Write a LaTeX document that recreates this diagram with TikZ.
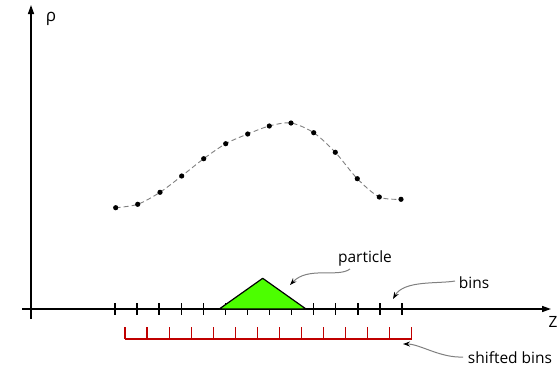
\documentclass[tikz,border=0pt]{standalone}
\usepackage{fontspec}
\setmainfont{Open Sans}
\usepackage{xcolor}
\usetikzlibrary{arrows.meta}
\definecolor{BinRed}{HTML}{C00000}
\definecolor{PartGreen}{HTML}{4CFF00}

\begin{document}
\begin{tikzpicture}[x=1pt, y=-1pt, every node/.style={font=\fontsize{15.5}{17}\selectfont},
    axis/.style={line width=1.5pt, -{Triangle[length=9pt, width=6pt]}},
    bintick/.style={line width=1.4pt, black},
    shifted/.style={line width=1.2pt, color=BinRed},
    note/.style={gray, line width=1pt, -{Stealth[black, length=7pt, width=5pt]}},
    sample/.style={black}]

    \useasboundingbox (0,0) rectangle (560,368);

    % axes
    \coordinate (origin) at (31,309);
    \coordinate (ybot) at (31,319);
    \coordinate (ytop) at (31,5);
    \coordinate (xleft) at (22,309);
    \coordinate (xright) at (551,309);
    \draw[axis] (ybot) -- (ytop);
    \draw[axis] (xleft) -- (xright);
    \node[font=\fontsize{17}{19}\selectfont] (rho) at (51,19) {ρ};
    \node (zlabel) at (553,322) {Z};

    % bins
    \draw[bintick] \foreach \x in {115.0,137.1,159.1,181.2,203.3,225.4,247.4,269.5,291.6,313.6,335.7,357.8,379.8,401.9}{
      (\x,303) -- (\x,315)
    };

    % shifted bins
    \coordinate (sleft) at (125,339);
    \coordinate (sright) at (411.7,339);
    \draw[shifted] (sleft) -- (sright)
      \foreach \x in {125.0,147.0,169.1,191.2,213.2,235.3,257.3,279.4,301.4,323.5,345.5,367.6,389.6,411.7}{
      (\x,327) -- (\x,339)
    };

    % particle
    \coordinate (pleft) at (219.3,309);
    \coordinate (ptop) at (262.7,278.3);
    \coordinate (pright) at (306,309);
    \filldraw[fill=PartGreen, draw=black, line width=1.2pt, line join=round]
      (pleft) -- (ptop) -- (pright) -- cycle;

    % density samples
    \coordinate (s1) at (115.7,207.7);
    \coordinate (s2) at (137.7,204.3);
    \coordinate (s3) at (160,192.3);
    \coordinate (s4) at (181.7,176);
    \coordinate (s5) at (203.7,158.7);
    \coordinate (s6) at (225.7,143.7);
    \coordinate (s7) at (247.7,134);
    \coordinate (s8) at (269.3,126);
    \coordinate (s9) at (291,123);
    \coordinate (s10) at (313.7,132.7);
    \coordinate (s11) at (335.3,152.3);
    \coordinate (s12) at (357.3,178.7);
    \coordinate (s13) at (379.3,197);
    \coordinate (s14) at (401,199.3);
    \draw[gray, line width=0.9pt, dash pattern=on 5pt off 3pt]
      plot[smooth, tension=0.5] coordinates {(s1) (s2) (s3) (s4) (s5) (s6) (s7)
        (s8) (s9) (s10) (s11) (s12) (s13) (s14)};
    \foreach \i in {1,...,14}{
      \fill[sample] (s\i) circle (2.6pt);
    }

    % labels
    \node (particle) at (365,258) {particle};
    \node (bins) at (474,283) {bins};
    \node (shiftedbins) at (510,358) {shifted bins};
    \coordinate (ptip) at (290,285);
    \coordinate (btip) at (393,299);
    \coordinate (stip) at (403,344);
    \draw[note] (350,269) .. controls (338,278) and (308,266) .. (ptip);
    \draw[note] (455,281) .. controls (438,284) and (404,280) .. (btip);
    \draw[note] (463,357) .. controls (440,358) and (420,344) .. (stip);
\end{tikzpicture}
\end{document}
